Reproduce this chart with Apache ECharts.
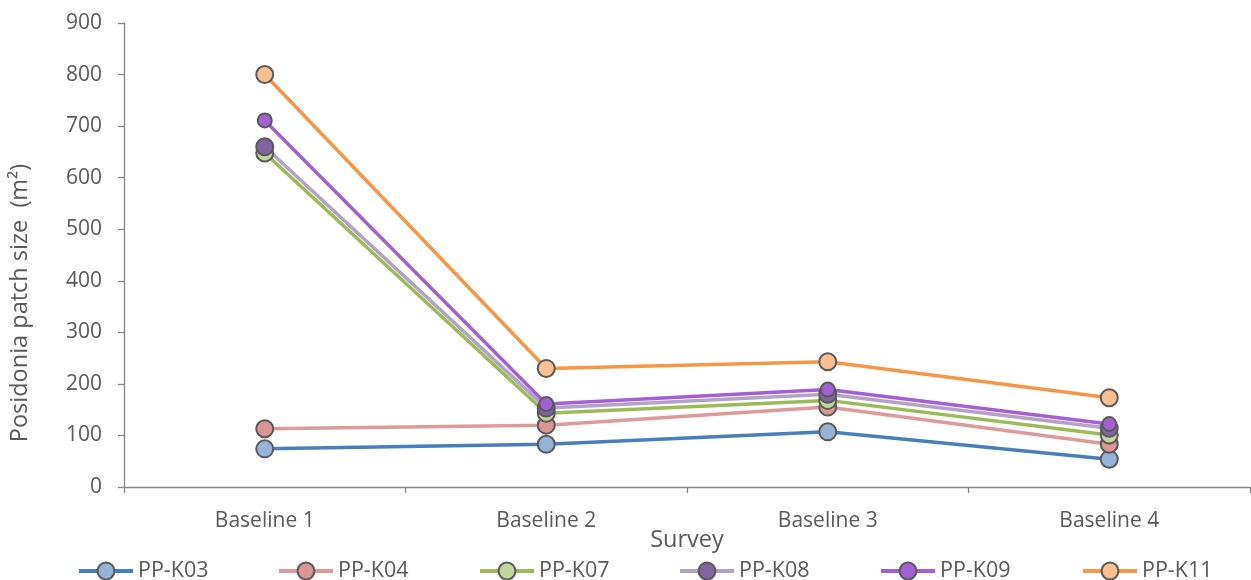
<!DOCTYPE html>
<html>
<head>
<meta charset="utf-8">
<script src="https://cdn.jsdelivr.net/npm/echarts@6/dist/echarts.min.js"></script>
<style>
  html, body { margin: 0; padding: 0; background: #fff; }
  #chart { width: 1251px; height: 580px; }
</style>
</head>
<body>
<div id="chart"></div>
<script>
// Survey categories and patch sizes (m²) for each site
const surveys = ['Baseline 1', 'Baseline 2', 'Baseline 3', 'Baseline 4'];
const yTicks = [0, 100, 200, 300, 400, 500, 600, 700, 800, 900];
const seriesNames = ['PP-K03', 'PP-K04', 'PP-K07', 'PP-K08', 'PP-K09', 'PP-K11'];
const k03 = [74, 83, 107, 54];
const k04 = [113, 120, 155, 83];
const k07 = [648, 143, 168, 101];
const k08 = [660, 153, 180, 114];
const k09 = [711, 161, 189, 122];
const k11 = [800, 230, 243, 173];
const values = [k03, k04, k07, k08, k09, k11];

// Line colour, marker fill, marker size per series
const styles = [
  { line: '#4A7EBB', fill: '#95B3D7', size: 17 },
  { line: '#DE9A9A', fill: '#D99694', size: 17 },
  { line: '#9BBB59', fill: '#C3D69B', size: 17 },
  { line: '#B3A2C7', fill: '#8064A2', size: 17 },
  { line: '#A35FD4', fill: '#A35FD4', size: 14 },
  { line: '#F79646', fill: '#FAC090', size: 17 }
];
const legendLeft = [72, 272, 473, 673, 874, 1076];

const FONT = '"Open Sans", "Liberation Sans", sans-serif';
const TXT = '#595959';
const AXIS = '#868686';

const chart = echarts.init(document.getElementById('chart'), null, { renderer: 'canvas' });

const series = seriesNames.map((name, i) => ({
  name: name,
  type: 'line',
  data: values[i],
  symbol: 'circle',
  symbolSize: styles[i].size,
  lineStyle: { color: styles[i].line, width: 3.5 },
  itemStyle: { color: styles[i].fill, borderColor: '#595959', borderWidth: 2 },
  emphasis: { disabled: true },
  animation: false
}));

const legends = seriesNames.map((name, i) => ({
  data: [name],
  left: legendLeft[i],
  top: 555,
  itemWidth: 54,
  itemHeight: 21,
  itemGap: 5,
  selectedMode: false,
  lineStyle: { width: 4 },
  itemStyle: { borderWidth: 2, borderColor: '#595959' },
  textStyle: { fontFamily: FONT, fontSize: 21.5, color: TXT }
}));

chart.setOption({
  backgroundColor: '#ffffff',
  animation: false,
  grid: { left: 124, right: 1, top: 23, bottom: 93, containLabel: false },
  legend: legends,
  graphic: [{
    type: 'text',
    x: 20,
    y: 303,
    rotation: Math.PI / 2,
    style: {
      text: 'Posidonia patch size  (m²)',
      fontFamily: FONT,
      fontSize: 23.5,
      fill: TXT,
      align: 'center',
      verticalAlign: 'middle'
    }
  }],
  xAxis: {
    type: 'category',
    data: surveys,
    boundaryGap: true,
    name: 'Survey',
    nameLocation: 'middle',
    nameGap: 41,
    nameMoveOverlap: false,
    nameTextStyle: { fontFamily: FONT, fontSize: 23.5, color: TXT },
    axisLine: { lineStyle: { color: AXIS, width: 1.3 } },
    axisTick: { show: true, length: 6, inside: false, lineStyle: { color: AXIS, width: 1.3 } },
    axisLabel: { fontFamily: FONT, fontSize: 21, color: TXT, margin: 24 },
    splitLine: { show: false }
  },
  yAxis: {
    type: 'value',
    min: yTicks[0],
    max: yTicks[yTicks.length - 1],
    interval: 100,
    axisLine: { show: true, lineStyle: { color: AXIS, width: 1.3 } },
    axisTick: { show: true, length: 6, inside: false, lineStyle: { color: AXIS, width: 1.3 } },
    axisLabel: { fontFamily: FONT, fontSize: 21, color: TXT, margin: 22 },
    splitLine: { show: false }
  },
  series: series
});
</script>
</body>
</html>
